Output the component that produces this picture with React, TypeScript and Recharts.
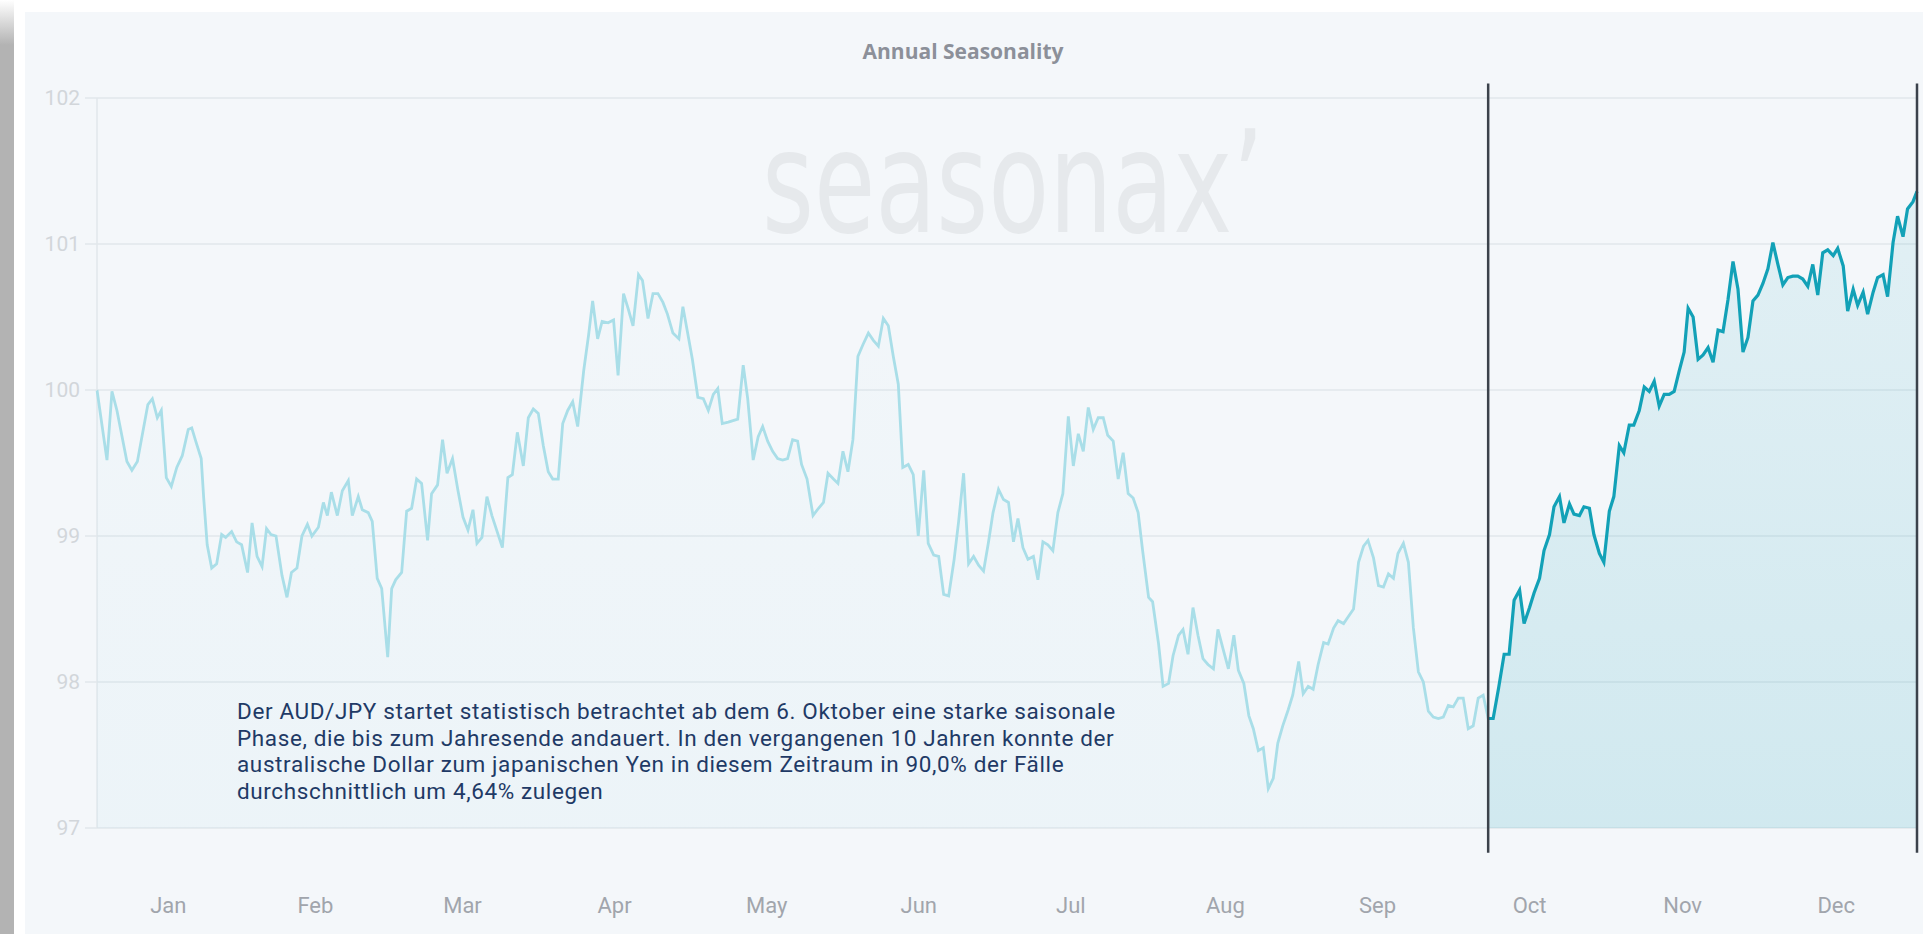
import React from 'react';
import { ComposedChart, Area, XAxis, YAxis, CartesianGrid, ReferenceLine } from 'recharts';

// ---- data (day of year, seasonal index) ----
const days: number[] = [
  0, 2.0, 3.0, 4.0, 6.0, 7.0, 8.1, 10.2, 11.1, 12.1, 12.9, 13.9, 14.9, 16.0, 17.1, 18.3, 19.0, 19.8, 20.9, 21.4,
  22.1, 23.0, 24.0, 25.0, 25.8, 27.0, 28.0, 29.0, 30.2, 31.1, 32.1, 33.1, 34.0, 34.9, 35.9, 37.1, 38.1, 39.0, 40.1, 41.1,
  42.2, 43.1, 44.4, 45.4, 46.2, 47.0, 48.2, 49.2, 50.4, 51.2, 52.4, 53.2, 54.4, 55.2, 56.2, 57.1, 58.3, 59.1, 59.9, 61.1,
  62.1, 63.1, 64.1, 65.1, 66.3, 67.1, 68.3, 69.3, 70.2, 71.3, 72.4, 73.4, 74.4, 75.4, 76.2, 77.2, 78.2, 79.2, 81.3, 82.4,
  83.3, 84.3, 85.5, 86.5, 87.5, 88.5, 89.5, 90.5, 91.4, 92.5, 93.4, 94.4, 95.4, 96.4, 97.6, 98.6, 99.4, 100.4, 101.3, 102.5,
  103.6, 104.5, 105.6, 106.5, 107.5, 108.6, 109.4, 110.5, 111.5, 112.5, 113.5, 114.4, 115.5, 116.7, 117.5, 118.4, 119.4, 120.5, 121.6, 122.6,
  123.6, 124.5, 125.4, 126.6, 128.5, 129.6, 130.5, 131.6, 132.6, 133.5, 134.5, 135.5, 136.5, 137.5, 138.5, 139.5, 140.5, 141.3, 142.4, 143.6,
  144.7, 145.7, 146.6, 147.7, 148.6, 149.6, 150.6, 151.6, 152.6, 153.6, 154.7, 155.7, 156.7, 157.7, 158.7, 159.7, 160.7, 161.6, 162.7, 163.7,
  164.7, 165.8, 166.7, 167.8, 168.8, 169.8, 170.8, 171.9, 172.8, 173.8, 174.8, 175.8, 176.8, 177.8, 178.8, 179.7, 180.8, 181.8, 182.8, 183.8,
  184.7, 185.7, 186.7, 187.8, 188.7, 189.7, 190.7, 191.7, 192.7, 193.7, 194.8, 195.8, 196.8, 197.8, 198.8, 199.8, 200.8, 201.8, 202.7, 203.8,
  204.8, 205.8, 206.8, 207.8, 208.8, 209.7, 210.9, 211.7, 212.9, 213.8, 214.9, 215.8, 216.9, 217.8, 218.8, 219.8, 220.8, 221.8, 222.8, 223.9,
  224.8, 225.8, 226.9, 228.0, 228.9, 230.0, 231.0, 231.9, 232.9, 233.9, 234.9, 235.9, 236.8, 237.8, 238.9, 239.8, 241.0, 241.9, 242.9, 243.9,
  244.9, 246.0, 246.9, 248.0, 248.9, 250.0, 251.0, 252.0, 253.0, 254.0, 254.9, 256.0, 257.0, 258.0, 259.0, 260.0, 260.9, 262.0, 263.0, 264.0,
  265.0, 266.0, 267.0, 268.0, 269.0, 270.0, 271.0, 272.0, 273.0, 274.0, 275.0, 276.0, 277.0, 278.0, 279.0,
  280.0, 281.1, 282.2, 283.2, 284.2, 285.3, 286.2, 287.3, 288.2, 289.3, 290.2, 291.3, 292.2, 293.3, 294.2, 295.3, 296.2, 297.3, 298.2, 299.3,
  300.2, 301.3, 302.2, 303.3, 304.2, 305.3, 306.2, 307.3, 308.2, 309.3, 310.3, 311.3, 312.3, 313.3, 314.3, 315.3, 316.3, 317.3, 318.3, 319.1,
  320.1, 321.1, 322.1, 323.1, 324.1, 325.1, 326.1, 327.1, 328.1, 329.1, 330.1, 331.1, 332.1, 333.1, 334.1, 335.1, 336.1, 337.1, 338.1, 339.1,
  340.1, 341.1, 342.1, 343.1, 344.1, 345.1, 346.1, 347.1, 348.2, 349.1, 350.2, 351.1, 352.2, 353.1, 354.2, 355.1, 356.2, 357.1, 358.2, 359.1,
  360.2, 361.1, 362.2, 363.1, 364.2, 365.0,
];

const values: number[] = [
  100.00, 99.52, 99.99, 99.86, 99.51, 99.45, 99.51, 99.90, 99.94, 99.81, 99.86, 99.40, 99.34, 99.47, 99.55, 99.73, 99.74, 99.65, 99.53, 99.26,
  98.94, 98.78, 98.81, 99.01, 98.99, 99.03, 98.96, 98.94, 98.75, 99.09, 98.86, 98.79, 99.05, 99.01, 99.00, 98.73, 98.58, 98.75, 98.78, 99.00,
  99.08, 99.00, 99.06, 99.23, 99.14, 99.30, 99.14, 99.31, 99.38, 99.14, 99.27, 99.18, 99.16, 99.10, 98.71, 98.64, 98.17, 98.64, 98.70, 98.75,
  99.17, 99.19, 99.39, 99.36, 98.97, 99.29, 99.35, 99.66, 99.43, 99.53, 99.31, 99.13, 99.04, 99.18, 98.95, 98.99, 99.27, 99.14, 98.92, 99.40,
  99.42, 99.71, 99.48, 99.81, 99.87, 99.84, 99.62, 99.44, 99.39, 99.39, 99.77, 99.86, 99.92, 99.75, 100.13, 100.38, 100.61, 100.35, 100.47, 100.46,
  100.48, 100.10, 100.66, 100.56, 100.44, 100.79, 100.75, 100.49, 100.66, 100.66, 100.60, 100.52, 100.39, 100.35, 100.57, 100.40, 100.21, 99.95, 99.94, 99.86,
  99.97, 100.01, 99.77, 99.78, 99.80, 100.17, 99.94, 99.52, 99.68, 99.75, 99.65, 99.58, 99.53, 99.52, 99.53, 99.66, 99.65, 99.49, 99.39, 99.14,
  99.19, 99.23, 99.43, 99.39, 99.36, 99.58, 99.44, 99.66, 100.23, 100.31, 100.39, 100.34, 100.30, 100.49, 100.44, 100.23, 100.04, 99.47, 99.49, 99.42,
  99.00, 99.45, 98.95, 98.87, 98.86, 98.60, 98.59, 98.84, 99.10, 99.43, 98.81, 98.86, 98.80, 98.76, 98.96, 99.16, 99.32, 99.25, 99.23, 98.96,
  99.12, 98.92, 98.84, 98.86, 98.70, 98.96, 98.94, 98.90, 99.16, 99.29, 99.82, 99.48, 99.70, 99.58, 99.88, 99.73, 99.81, 99.81, 99.69, 99.65,
  99.39, 99.57, 99.29, 99.26, 99.16, 98.90, 98.58, 98.55, 98.26, 97.97, 97.99, 98.18, 98.32, 98.36, 98.19, 98.51, 98.32, 98.16, 98.12, 98.09,
  98.36, 98.23, 98.09, 98.32, 98.08, 97.99, 97.77, 97.68, 97.53, 97.55, 97.27, 97.34, 97.58, 97.70, 97.81, 97.91, 98.14, 97.92, 97.97, 97.95,
  98.12, 98.27, 98.26, 98.37, 98.42, 98.40, 98.45, 98.50, 98.82, 98.93, 98.97, 98.85, 98.66, 98.65, 98.74, 98.71, 98.88, 98.95, 98.82, 98.37,
  98.07, 98.00, 97.80, 97.76, 97.75, 97.76, 97.84, 97.83, 97.89, 97.89, 97.68, 97.70, 97.89, 97.91, 97.75,
  97.75, 97.96, 98.19, 98.19, 98.56, 98.63, 98.40, 98.51, 98.61, 98.71, 98.90, 99.01, 99.20, 99.27, 99.09, 99.22, 99.15, 99.14, 99.20, 99.19,
  99.01, 98.88, 98.82, 99.17, 99.27, 99.62, 99.57, 99.76, 99.76, 99.86, 100.02, 99.99, 100.06, 99.89, 99.97, 99.97, 99.99, 100.13, 100.26, 100.56,
  100.50, 100.21, 100.24, 100.29, 100.19, 100.41, 100.40, 100.62, 100.88, 100.69, 100.26, 100.36, 100.61, 100.65, 100.73, 100.83, 101.01, 100.86, 100.72, 100.77,
  100.78, 100.78, 100.76, 100.71, 100.86, 100.65, 100.94, 100.96, 100.92, 100.97, 100.85, 100.54, 100.69, 100.58, 100.67, 100.52, 100.67, 100.77, 100.79, 100.64,
  101.01, 101.19, 101.05, 101.24, 101.29, 101.36,
];

const HIGHLIGHT_START = 279;
const YEAR_END = 365;

const monthStarts: number[] = [0, 31, 59, 90, 120, 151, 181, 212, 243, 273, 304, 334];
const monthMids: number[] = [14.3, 43.8, 73.3, 103.8, 134.3, 164.8, 195.3, 226.3, 256.8, 287.3, 318, 348.8];
const monthLabels: string[] = ['Jan', 'Feb', 'Mar', 'Apr', 'May', 'Jun', 'Jul', 'Aug', 'Sep', 'Oct', 'Nov', 'Dec'];
const yTicks: number[] = [97, 98, 99, 100, 101, 102];

const titleText = 'Annual Seasonality';
const watermarkText = 'seasonax’';
const noteLines: string[] = [
  'Der AUD/JPY startet statistisch betrachtet ab dem 6. Oktober eine starke saisonale',
  'Phase, die bis zum Jahresende andauert. In den vergangenen 10 Jahren konnte der',
  'australische Dollar zum japanischen Yen in diesem Zeitraum in 90,0% der Fälle',
  'durchschnittlich um 4,64% zulegen',
];

const data = days.map((d, i) => ({
  day: d,
  base: d <= HIGHLIGHT_START ? values[i] : undefined,
  hi: d >= HIGHLIGHT_START ? values[i] : undefined,
}));

const GRID = '#e2e7eb';
const AXIS_FONT = '"Liberation Sans Narrow", Roboto, sans-serif';

const MonthTick = (props: any) => {
  const { x, y, payload } = props;
  const idx = monthMids.indexOf(payload.value);
  return (
    <text x={x} y={y} dy={57} textAnchor="middle" fill="#a1a5ac" fontSize={22} fontFamily={AXIS_FONT}>
      {monthLabels[idx]}
    </text>
  );
};

export default function App() {
  return (
    <div style={{ position: 'absolute', left: 0, top: 0, width: 1926, height: 934, overflow: 'hidden', background: '#ffffff' }}>
      <div style={{ position: 'absolute', left: 0, top: 0, width: 14, height: 934, background: 'linear-gradient(#ffffff 0px, #b3b3b3 45px, #b3b3b3 100%)' }} />
      <div style={{ position: 'absolute', left: 25, top: 12, width: 1898, height: 922, background: '#f4f7fa' }} />
      <svg style={{ position: 'absolute', left: 0, top: 0 }} width={1926} height={934}>
        <text x={762} y={232} textLength={502} lengthAdjust="spacingAndGlyphs" fontSize={142} fontFamily="'DejaVu Sans', sans-serif" fill="#e6e9ec">
          {watermarkText}
        </text>
      </svg>
      <div style={{ position: 'absolute', left: 0, top: 0 }}>
        <ComposedChart width={1926} height={934} data={data} margin={{ top: 98, right: 9, bottom: 26, left: 0 }}>
          <defs>
            <linearGradient id="lightFill" x1="0" y1="0" x2="0" y2="1">
              <stop offset="0%" stopColor="#3aaed0" stopOpacity={0.02} />
              <stop offset="100%" stopColor="#3aaed0" stopOpacity={0.07} />
            </linearGradient>
            <linearGradient id="hiFill" x1="0" y1="0" x2="0" y2="1">
              <stop offset="0%" stopColor="#1aa0b8" stopOpacity={0.14} />
              <stop offset="100%" stopColor="#1aa0b8" stopOpacity={0.27} />
            </linearGradient>
          </defs>
          <CartesianGrid xAxisId="grid" stroke={GRID} strokeWidth={1.5} />
          <XAxis
            xAxisId="grid"
            dataKey="day"
            type="number"
            domain={[0, YEAR_END]}
            ticks={monthStarts}
            tick={false}
            tickSize={20}
            tickLine={{ stroke: GRID, strokeWidth: 1.5 }}
            axisLine={false}
            height={20}
          />
          <XAxis
            xAxisId="labels"
            dataKey="day"
            type="number"
            domain={[0, YEAR_END]}
            ticks={monthMids}
            tick={<MonthTick />}
            tickLine={false}
            axisLine={false}
            height={60}
            interval={0}
          />
          <YAxis
            type="number"
            domain={[97, 102]}
            ticks={yTicks}
            width={97}
            tickSize={12}
            tickMargin={5}
            tickLine={{ stroke: GRID, strokeWidth: 1.5 }}
            axisLine={false}
            tick={{ fill: '#d2d6da', fontSize: 21, fontFamily: AXIS_FONT }}
          />
          <Area
            xAxisId="grid"
            type="linear"
            dataKey="base"
            stroke="#a9dee8"
            strokeWidth={2.8}
            fill="url(#lightFill)"
            dot={false}
            activeDot={false}
            isAnimationActive={false}
          />
          <Area
            xAxisId="grid"
            type="linear"
            dataKey="hi"
            stroke="#12a1b7"
            strokeWidth={3.2}
            fill="url(#hiFill)"
            dot={false}
            activeDot={false}
            isAnimationActive={false}
          />
          <ReferenceLine
            xAxisId="grid"
            segment={[{ x: HIGHLIGHT_START, y: 102.1 }, { x: HIGHLIGHT_START, y: 96.83 }]}
            stroke="#3b424b"
            strokeWidth={2.5}
            ifOverflow="visible"
          />
          <ReferenceLine
            xAxisId="grid"
            segment={[{ x: YEAR_END, y: 102.1 }, { x: YEAR_END, y: 96.83 }]}
            stroke="#3b424b"
            strokeWidth={2.5}
            ifOverflow="visible"
          />
        </ComposedChart>
      </div>
      <div style={{ position: 'absolute', left: 0, width: 1926, top: 37, textAlign: 'center', fontFamily: '"Open Sans", sans-serif', fontWeight: 700, fontSize: 21, color: '#8c9099', lineHeight: '28px' }}>
        {titleText}
      </div>
      <div style={{ position: 'absolute', left: 237, top: 698, fontFamily: 'Roboto, sans-serif', fontSize: 22.5, letterSpacing: '0.62px', lineHeight: '26.5px', color: '#1f3a66', whiteSpace: 'nowrap' }}>
        {noteLines.map((l, i) => (
          <div key={i}>{l}</div>
        ))}
      </div>
    </div>
  );
}
